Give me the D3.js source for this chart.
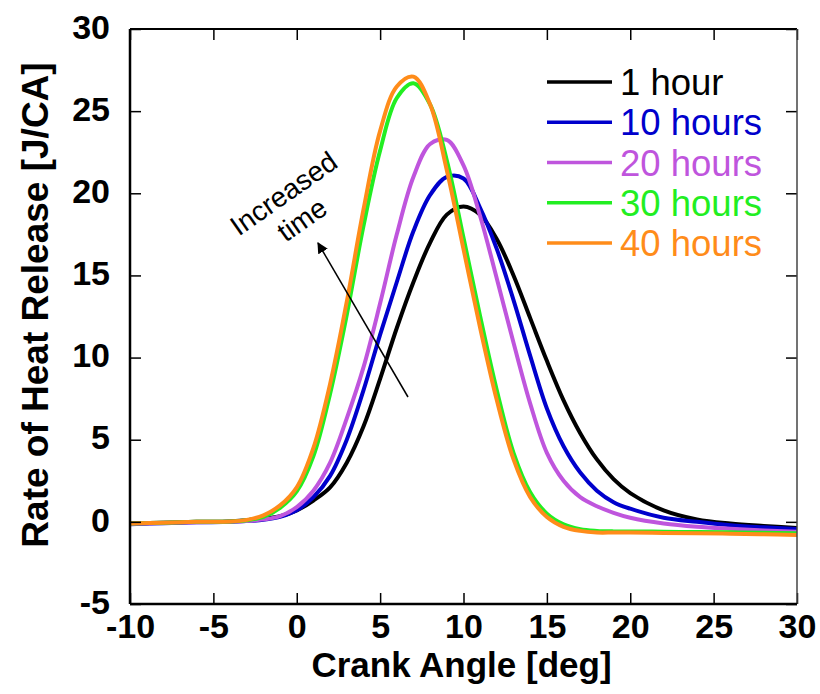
<!DOCTYPE html>
<html>
<head>
<meta charset="utf-8">
<script src="https://cdn.jsdelivr.net/npm/d3@7"></script>
<style>
  body { margin: 0; background: #fff; }
  text { font-family: Arial, "Liberation Sans", sans-serif; }
</style>
</head>
<body>
<script>
// crank angle grid (deg), shared by all series
var angle = [-10, -8, -6, -4, -3, -2, -1, 0, 1, 2, 3, 4, 5, 6, 7, 8, 9, 10,
             11, 12, 13, 14, 15, 16, 17, 18, 19, 20, 22, 24, 26, 28, 30];

// rate of heat release (J/CA)
var hr1 = [-0.1, -0.05, 0.0, 0.02, 0.1, 0.2, 0.35, 0.7, 1.3, 2.1, 3.6, 5.8, 8.7, 11.8, 14.6, 17.0, 18.7, 19.2,
           18.7, 17.2, 15.0, 12.4, 9.8, 7.4, 5.4, 3.8, 2.6, 1.75, 0.7, 0.15, -0.1, -0.25, -0.37];
var hr10 = [-0.15, -0.08, -0.03, 0.0, 0.05, 0.12, 0.3, 0.7, 1.5, 2.8, 5.0, 8.0, 11.4, 14.6, 17.7, 19.9, 21.0, 20.9,
            19.1, 16.6, 13.5, 10.1, 6.9, 4.6, 3.0, 1.9, 1.2, 0.8, 0.25, 0.0, -0.2, -0.33, -0.43];
var hr20 = [-0.12, -0.06, -0.02, 0.0, 0.05, 0.15, 0.35, 0.9, 1.9, 3.6, 6.3, 9.4, 13.3, 17.5, 21.0, 23.0, 23.25, 21.7,
            18.6, 14.8, 10.9, 7.2, 4.2, 2.5, 1.5, 0.95, 0.55, 0.25, -0.1, -0.3, -0.42, -0.52, -0.6];
var hr30 = [-0.1, -0.05, 0.0, 0.02, 0.1, 0.3, 0.85, 1.85, 4.0, 7.8, 12.6, 18.0, 22.6, 25.8, 26.7, 25.4, 22.0, 17.3,
            12.5, 8.0, 4.2, 1.8, 0.5, -0.15, -0.45, -0.55, -0.58, -0.58, -0.6, -0.62, -0.64, -0.67, -0.7];
var hr40 = [-0.1, -0.05, 0.0, 0.02, 0.12, 0.4, 1.0, 2.1, 4.5, 8.4, 13.4, 19.0, 23.8, 26.5, 27.1, 25.4, 21.4, 16.6,
            11.8, 7.4, 3.8, 1.5, 0.3, -0.3, -0.55, -0.65, -0.65, -0.65, -0.68, -0.7, -0.72, -0.76, -0.8];

var seriesNames = ["1 hour", "10 hours", "20 hours", "30 hours", "40 hours"];
var seriesColors = ["#000000", "#0000cc", "#bf55dd", "#22ee22", "#ff8c1a"];
var seriesValues = [hr1, hr10, hr20, hr30, hr40];

var xTicks = [-10, -5, 0, 5, 10, 15, 20, 25, 30];
var yTicks = [-5, 0, 5, 10, 15, 20, 25, 30];

var width = 820, height = 694,
    pLeft = 130, pRight = 797, pTop = 29, pBottom = 604; // plot box

var x = d3.scaleLinear().domain([-10, 30]).range([pLeft, pRight]);
var y = d3.scaleLinear().domain([-5, 30]).range([pBottom, pTop]);

var svg = d3.select("body").append("svg")
    .attr("width", width)
    .attr("height", height);

var defs = svg.append("defs");
defs.append("clipPath").attr("id", "plot")
  .append("rect")
    .attr("x", pLeft).attr("y", pTop)
    .attr("width", pRight - pLeft).attr("height", pBottom - pTop);

// curves
var line = d3.line()
    .x(function (d) { return x(d[0]); })
    .y(function (d) { return y(d[1]); })
    .curve(d3.curveCatmullRom.alpha(0.5));

svg.append("g").attr("clip-path", "url(#plot)")
  .selectAll("path")
  .data(seriesValues)
  .enter().append("path")
    .attr("d", function (vals) {
        return line(angle.map(function (a, i) { return [a, vals[i]]; }));
    })
    .attr("fill", "none")
    .attr("stroke", function (d, i) { return seriesColors[i]; })
    .attr("stroke-width", 4)
    .attr("stroke-linejoin", "round");

// axes, ticks pointing inwards on all sides
var plain = function (d) { return String(d); }; // keep ascii hyphen for negatives
var xAxis = d3.axisBottom(x).tickValues(xTicks).tickFormat(plain)
    .tickSizeInner(-11).tickSizeOuter(0).tickPadding(10);
var yAxis = d3.axisLeft(y).tickValues(yTicks).tickFormat(plain)
    .tickSizeInner(-11).tickSizeOuter(0).tickPadding(20);

var gx = svg.append("g").attr("transform", "translate(0," + pBottom + ")").call(xAxis);
var gy = svg.append("g").attr("transform", "translate(" + pLeft + ",0)").call(yAxis);
svg.append("g").attr("transform", "translate(0," + pTop + ")")
    .call(d3.axisTop(x).tickValues(xTicks).tickSizeInner(-11).tickSizeOuter(0).tickFormat(""));
svg.append("g").attr("transform", "translate(" + pRight + ",0)")
    .call(d3.axisRight(y).tickValues(yTicks).tickSizeInner(-11).tickSizeOuter(0).tickFormat(""));

svg.selectAll(".domain").remove();
svg.selectAll(".tick line").attr("stroke", "#000").attr("stroke-width", 1.5);
gx.selectAll("text").attr("font-size", 34).attr("font-weight", "bold").attr("fill", "#000");
gy.selectAll("text").attr("font-size", 34).attr("font-weight", "bold").attr("fill", "#000")
    .attr("dy", "0.27em");

// frame
svg.append("line").attr("x1", pLeft).attr("x2", pRight).attr("y1", pTop).attr("y2", pTop)
    .attr("stroke", "#000").attr("stroke-width", 2);
svg.append("line").attr("x1", pRight).attr("x2", pRight).attr("y1", pTop).attr("y2", pBottom)
    .attr("stroke", "#444").attr("stroke-width", 1.5);
svg.append("line").attr("x1", pLeft).attr("x2", pRight).attr("y1", pBottom).attr("y2", pBottom)
    .attr("stroke", "#000").attr("stroke-width", 2.5);
svg.append("line").attr("x1", pLeft).attr("x2", pLeft).attr("y1", pTop).attr("y2", pBottom)
    .attr("stroke", "#000").attr("stroke-width", 2.5);

// axis titles
svg.append("text")
    .attr("x", (pLeft + pRight) / 2 - 2)
    .attr("y", 677)
    .attr("text-anchor", "middle")
    .attr("font-size", 35)
    .attr("font-weight", "bold")
    .text("Crank Angle [deg]");

svg.append("text")
    .attr("transform", "translate(48,305) rotate(-90)")
    .attr("text-anchor", "middle")
    .attr("font-size", 37)
    .attr("font-weight", "bold")
    .text("Rate of Heat Release [J/CA]");

// legend
var legend = svg.append("g").selectAll("g")
    .data(seriesNames)
    .enter().append("g")
    .attr("transform", function (d, i) { return "translate(547," + (82 + i * 40.25) + ")"; });

legend.append("line")
    .attr("x1", 0).attr("x2", 65)
    .attr("stroke", function (d, i) { return seriesColors[i]; })
    .attr("stroke-width", 3.5);

legend.append("text")
    .attr("x", 73)
    .attr("y", 13)
    .attr("font-size", 36.5)
    .attr("fill", function (d, i) { return seriesColors[i]; })
    .text(function (d) { return d; });

// annotation arrow
defs.append("marker")
    .attr("id", "head")
    .attr("viewBox", "0 0 10 10")
    .attr("refX", 9).attr("refY", 5)
    .attr("markerWidth", 11).attr("markerHeight", 11)
    .attr("markerUnits", "userSpaceOnUse")
    .attr("orient", "auto")
  .append("path")
    .attr("d", "M0,0L10,5L0,10Z")
    .attr("fill", "#000");

svg.append("line")
    .attr("x1", 408).attr("y1", 397)
    .attr("x2", 318).attr("y2", 243)
    .attr("stroke", "#000").attr("stroke-width", 1.5)
    .attr("marker-end", "url(#head)");

var note = svg.append("text")
    .attr("transform", "translate(284,194) rotate(-35)")
    .attr("text-anchor", "middle")
    .attr("font-size", 28);
note.append("tspan").attr("x", 0).attr("y", 9).text("Increased");
note.append("tspan").attr("x", 0).attr("y", 41).text("time");
</script>
</body>
</html>
